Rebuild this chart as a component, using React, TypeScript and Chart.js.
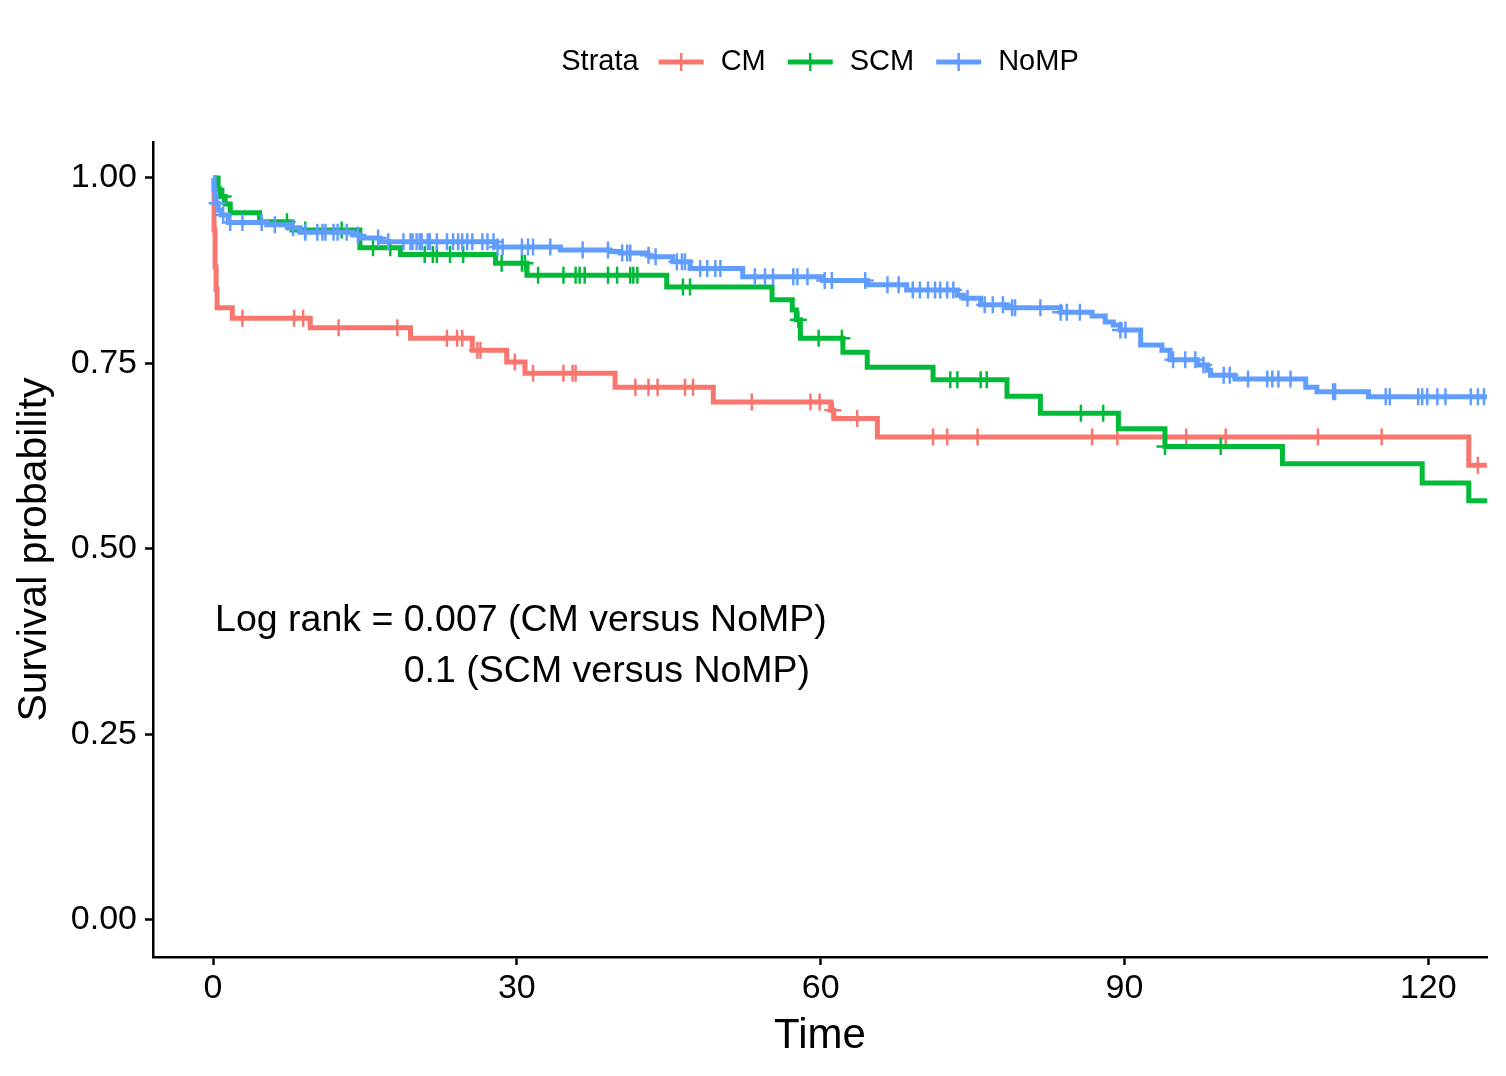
import React, { useEffect, useRef } from "react";
import { Chart, registerables } from "chart.js";

Chart.register(...registerables);

// ---- data ----
const strataNames = ["CM", "SCM", "NoMP"];
const strataColors = ["#F8766D", "#00BA38", "#619CFF"];
const legendTitle = "Strata";

const xTickValues = [0, 30, 60, 90, 120];
const yTickValues = [0, 0.25, 0.5, 0.75, 1.0];

// CM: step times and survival after each step
const cmTimes = [0, 0.1, 0.2, 0.3, 0.4, 1.9, 9.6, 19.5, 25.6, 29.0, 30.8, 39.7, 49.4, 61.0, 61.3, 65.6, 124.0, 125.8];
const cmSurv = [1.0, 0.93, 0.88, 0.85, 0.825, 0.811, 0.798, 0.784, 0.768, 0.752, 0.737, 0.718, 0.698, 0.687, 0.676, 0.651, 0.613, 0.613];
const cmCensor = [2.9, 8.0, 8.9, 12.4, 18.2, 23.1, 24.1, 24.6, 26.1, 26.4, 29.8, 31.6, 34.6, 35.5, 35.8, 41.7, 43.0, 43.9, 46.6, 47.4, 53.2, 59.0, 59.9, 61.2, 63.6, 71.1, 72.5, 75.5, 86.8, 89.3, 96.1, 100.0, 109.1, 115.4, 124.9];

// SCM
const scmTimes = [0, 0.5, 0.7, 1.2, 1.7, 4.6, 7.8, 14.5, 18.5, 27.9, 31.0, 44.8, 55.2, 57.2, 57.6, 58.0, 62.2, 64.6, 71.1, 78.4, 81.7, 89.4, 94.0, 105.6, 119.4, 124.0, 125.8];
const scmSurv = [1.0, 0.985, 0.975, 0.965, 0.953, 0.941, 0.93, 0.906, 0.897, 0.885, 0.869, 0.853, 0.836, 0.822, 0.809, 0.784, 0.765, 0.745, 0.728, 0.706, 0.683, 0.662, 0.638, 0.615, 0.589, 0.565, 0.565];
const scmCensor = [1.0, 7.3, 9.1, 12.7, 15.8, 17.5, 20.9, 21.7, 22.1, 23.4, 24.7, 28.5, 30.5, 30.8, 32.1, 34.6, 35.8, 36.2, 36.7, 39.0, 39.9, 41.2, 41.5, 41.9, 46.4, 47.1, 57.8, 59.8, 62.1, 72.8, 73.5, 75.8, 76.4, 85.7, 87.9, 94.0, 99.5];

// NoMP
const nompTimes = [0, 0.1, 0.2, 0.3, 0.5, 0.8, 1.5, 5.3, 7.6, 8.6, 13.8, 14.5, 16.5, 28.0, 34.3, 39.2, 40.2, 42.9, 43.2, 45.4, 47.1, 52.3, 60.2, 64.6, 68.5, 73.5, 74.1, 75.8, 78.4, 83.7, 86.8, 88.1, 88.9, 89.6, 91.6, 93.7, 94.5, 97.2, 98.2, 98.5, 100.9, 107.9, 109.0, 114.1, 125.8];
const nompSurv = [1.0, 0.985, 0.975, 0.966, 0.957, 0.95, 0.94, 0.937, 0.933, 0.927, 0.923, 0.919, 0.914, 0.907, 0.903, 0.901, 0.899, 0.896, 0.894, 0.887, 0.878, 0.867, 0.862, 0.856, 0.849, 0.842, 0.838, 0.829, 0.825, 0.819, 0.814, 0.806, 0.802, 0.795, 0.775, 0.768, 0.755, 0.748, 0.741, 0.734, 0.729, 0.718, 0.712, 0.705, 0.705];
const nompCensor = [0.4, 1.0, 1.7, 2.9, 4.8, 6.1, 7.9, 9.1, 10.3, 10.8, 11.1, 11.9, 12.3, 13.2, 14.3, 16.3, 17.3, 18.8, 19.5, 19.7, 20.1, 20.4, 20.6, 21.2, 21.4, 22.1, 23.1, 23.7, 24.2, 24.6, 25.1, 25.6, 26.6, 27.1, 27.7, 28.1, 28.6, 30.5, 31.1, 31.6, 33.3, 36.5, 39.0, 40.4, 40.9, 41.2, 43.0, 43.7, 45.8, 46.3, 46.6, 48.1, 48.8, 49.6, 50.1, 53.5, 54.5, 55.3, 57.3, 57.7, 58.7, 60.4, 61.1, 64.4, 66.6, 67.7, 69.1, 69.8, 70.6, 71.3, 71.8, 72.5, 73.1, 74.5, 76.2, 77.0, 78.0, 78.9, 79.2, 81.7, 83.7, 84.3, 85.6, 89.6, 90.1, 94.8, 96.0, 97.0, 97.8, 99.8, 100.4, 102.2, 104.1, 104.6, 105.2, 106.4, 110.6, 110.8, 115.8, 116.2, 119.0, 119.4, 119.9, 120.9, 121.7, 124.2, 124.9, 125.5];

const annotationPrefix = "Log rank = ";
const annotationLine1 = "0.007 (CM versus NoMP)";
const annotationLine2 = "0.1 (SCM versus NoMP)";
const annotationAnchor = { x: 0.2, y: 0.404 };

const FONT = "'Liberation Sans', Arial, Helvetica, sans-serif";

function stepPoints(times: number[], surv: number[]) {
  return times.map((t, i) => ({ x: t, y: surv[i] }));
}
function survAt(times: number[], surv: number[], t: number) {
  let v = surv[0];
  for (let i = 0; i < times.length; i++) if (times[i] <= t) v = surv[i];
  return v;
}
function censorPoints(times: number[], surv: number[], cens: number[]) {
  return cens.map((t) => ({ x: t, y: survAt(times, surv, t) }));
}

const legendPlugin = {
  id: "strataLegend",
  afterDraw(chart: any) {
    const ctx = chart.ctx;
    ctx.save();
    ctx.font = `29px ${FONT}`;
    ctx.textBaseline = "middle";
    const gapTitle = 20, keyW = 45, gapKey = 17, gapItem = 22;
    const titleW = ctx.measureText(legendTitle).width;
    const textWs = strataNames.map((n) => ctx.measureText(n).width);
    let total = titleW;
    textWs.forEach((w, i) => (total += (i === 0 ? gapTitle : gapItem) + keyW + gapKey + w));
    const cx = (chart.chartArea.left + chart.chartArea.right) / 2;
    let x = cx - total / 2;
    const y = 62;
    ctx.fillStyle = "#000";
    ctx.fillText(legendTitle, x, y);
    x += titleW;
    strataNames.forEach((n, i) => {
      x += i === 0 ? gapTitle : gapItem;
      ctx.strokeStyle = strataColors[i];
      ctx.lineWidth = 5;
      ctx.beginPath();
      ctx.moveTo(x, y);
      ctx.lineTo(x + keyW, y);
      ctx.stroke();
      ctx.lineWidth = 2.5;
      ctx.beginPath();
      ctx.moveTo(x + keyW / 2, y - 9);
      ctx.lineTo(x + keyW / 2, y + 9);
      ctx.stroke();
      x += keyW + gapKey;
      ctx.fillStyle = "#000";
      ctx.fillText(n, x, y);
      x += textWs[i];
    });
    ctx.restore();
  },
};

const annotationPlugin = {
  id: "logRankText",
  afterDraw(chart: any) {
    const ctx = chart.ctx;
    const xs = chart.scales.x, ys = chart.scales.y;
    const x0 = xs.getPixelForValue(annotationAnchor.x);
    const y0 = ys.getPixelForValue(annotationAnchor.y);
    ctx.save();
    ctx.font = `37.5px ${FONT}`;
    ctx.fillStyle = "#000";
    ctx.textBaseline = "middle";
    ctx.fillText(annotationPrefix + annotationLine1, x0, y0);
    const off = ctx.measureText(annotationPrefix).width;
    ctx.fillText(annotationLine2, x0 + off, y0 + 51);
    ctx.restore();
  },
};

export default function App() {
  const ref = useRef<HTMLCanvasElement | null>(null);

  useEffect(() => {
    if (!ref.current) return;
    Chart.defaults.font.family = FONT;
    const curves = [
      { times: cmTimes, surv: cmSurv, cens: cmCensor },
      { times: scmTimes, surv: scmSurv, cens: scmCensor },
      { times: nompTimes, surv: nompSurv, cens: nompCensor },
    ];
    const datasets: any[] = [];
    curves.forEach((c, i) => {
      const order = 2 - i;
      datasets.push({
        label: strataNames[i],
        data: stepPoints(c.times, c.surv),
        stepped: true,
        borderColor: strataColors[i],
        backgroundColor: strataColors[i],
        borderWidth: 5,
        borderJoinStyle: "miter",
        pointRadius: 0,
        fill: false,
        order,
      });
      datasets.push({
        label: strataNames[i] + " censored",
        data: censorPoints(c.times, c.surv, c.cens),
        showLine: false,
        pointStyle: "cross",
        pointRadius: 8.5,
        pointBorderWidth: 2.5,
        borderColor: strataColors[i],
        backgroundColor: strataColors[i],
        pointBorderColor: strataColors[i],
        order,
      });
    });

    const chart = new Chart(ref.current, {
      type: "line",
      data: { datasets },
      plugins: [legendPlugin, annotationPlugin],
      options: {
        animation: false,
        responsive: true,
        maintainAspectRatio: false,
        layout: { padding: { top: 142, right: 19, left: 0, bottom: 0 } },
        plugins: { legend: { display: false }, tooltip: { enabled: false } },
        scales: {
          x: {
            type: "linear",
            min: -5.93,
            max: 125.8,
            afterBuildTicks: (s: any) => {
              s.ticks = xTickValues.map((v) => ({ value: v }));
            },
            afterFit: (s: any) => {
              s.height = 119;
            },
            ticks: {
              font: { size: 34 },
              color: "#000",
              padding: 3,
              maxRotation: 0,
              callback: (v: any) => String(v),
            },
            grid: {
              drawOnChartArea: false,
              drawTicks: true,
              tickLength: 8,
              tickWidth: 2.5,
              tickColor: "#000",
            },
            border: { display: true, color: "#000", width: 2.5 },
            title: {
              display: true,
              text: "Time",
              font: { size: 42 },
              color: "#000",
              padding: { top: 0, bottom: 14 },
            },
          },
          y: {
            type: "linear",
            min: -0.0499,
            max: 1.0485,
            afterBuildTicks: (s: any) => {
              s.ticks = yTickValues.map((v) => ({ value: v }));
            },
            afterFit: (s: any) => {
              s.width = 153;
            },
            ticks: {
              font: { size: 34 },
              color: "#000",
              padding: 8,
              callback: (v: any) => Number(v).toFixed(2),
            },
            grid: {
              drawOnChartArea: false,
              drawTicks: true,
              tickLength: 8,
              tickWidth: 2.5,
              tickColor: "#000",
            },
            border: { display: true, color: "#000", width: 2.5 },
            title: {
              display: true,
              text: "Survival probability",
              font: { size: 41 },
              color: "#000",
              padding: { top: 10, bottom: 0 },
            },
          },
        },
      } as any,
    });
    return () => chart.destroy();
  }, []);

  return (
    <div style={{ position: "fixed", left: 0, top: 0, width: 1506, height: 1076, background: "#fff" }}>
      <canvas ref={ref} />
    </div>
  );
}
